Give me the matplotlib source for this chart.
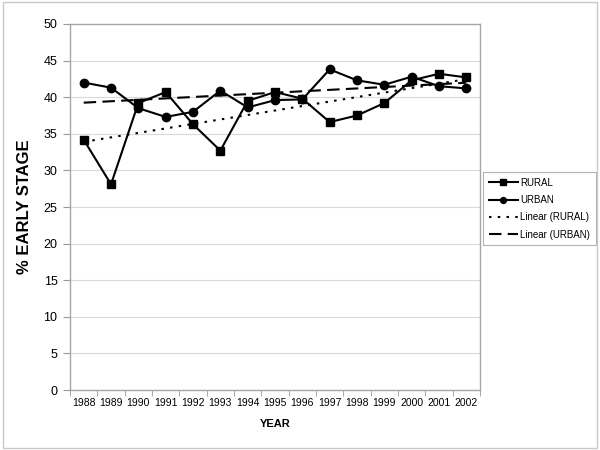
import matplotlib
matplotlib.use("Agg")
import matplotlib.pyplot as plt
import numpy as np
from matplotlib.patches import Rectangle

years = ["1988", "1989", "1990", "1991", "1992", "1993", "1994", "1995",
         "1996", "1997", "1998", "1999", "2000", "2001", "2002"]
rural = [34.2, 28.1, 39.2, 40.7, 36.3, 32.7, 39.5, 40.7, 39.8, 36.6, 37.5, 39.2, 42.3, 43.2, 42.7]
urban = [42.0, 41.3, 38.5, 37.3, 38.0, 40.9, 38.6, 39.6, 39.7, 43.8, 42.3, 41.7, 42.8, 41.5, 41.2]

plt.rcParams['font.family'] = ['Liberation Sans', 'DejaVu Sans']

fig = plt.figure(figsize=(6, 4.5), dpi=100)
fig.patches.append(Rectangle((0.005, 0.005), 0.99, 0.99, transform=fig.transFigure,
                             fill=False, edgecolor='#c8c8c8', linewidth=1.0))
ax = fig.add_axes([0.1167, 0.1333, 0.6833, 0.8134])

x = np.arange(len(years))
ax.plot(x, rural, color='black', lw=1.5, marker='s', markersize=5.5, label='RURAL')
ax.plot(x, urban, color='black', lw=1.5, marker='o', markersize=6, label='URBAN')

pr = np.polyfit(x, rural, 1)
pu = np.polyfit(x, urban, 1)
ax.plot(x, np.polyval(pr, x), color='black', lw=1.5, linestyle=(0, (1.2, 3)), label='Linear (RURAL)')
ax.plot(x, np.polyval(pu, x), color='black', lw=1.5, linestyle=(0, (6, 3)), label='Linear (URBAN)')

ax.set_xlim(-0.5, len(years) - 0.5)
ax.set_ylim(0, 50)
ax.set_yticks(np.arange(0, 51, 5))
ax.set_xticks(x)
ax.set_xticklabels(years, fontsize=7.5)
ax.set_xticks(np.arange(-0.5, len(years), 1), minor=True)
ax.tick_params(axis='x', which='major', length=0, pad=6)
ax.tick_params(axis='x', which='minor', length=4, color='#999999', direction='out')
ax.tick_params(axis='y', labelsize=9, length=5, color='#999999', direction='out', pad=4)
ax.grid(axis='y', color='#d9d9d9', linewidth=0.8)
ax.set_axisbelow(True)
for s in ax.spines.values():
    s.set_color('#a6a6a6')
    s.set_linewidth(1.0)

ax.set_ylabel('% EARLY STAGE', fontsize=12, fontweight='bold', labelpad=8)
ax.set_xlabel('YEAR', fontsize=8, fontweight='bold', labelpad=8)

leg = ax.legend(loc='upper left', bbox_to_anchor=(0.805, 0.618), bbox_transform=fig.transFigure,
                fontsize=7, frameon=True, fancybox=False, edgecolor='#a0a0a0',
                handlelength=3.0, handletextpad=0.2, borderpad=0.6, labelspacing=0.75,
                markerscale=0.7, borderaxespad=0)
leg.get_frame().set_linewidth(0.8)

fig.savefig('out.png', dpi=100)
